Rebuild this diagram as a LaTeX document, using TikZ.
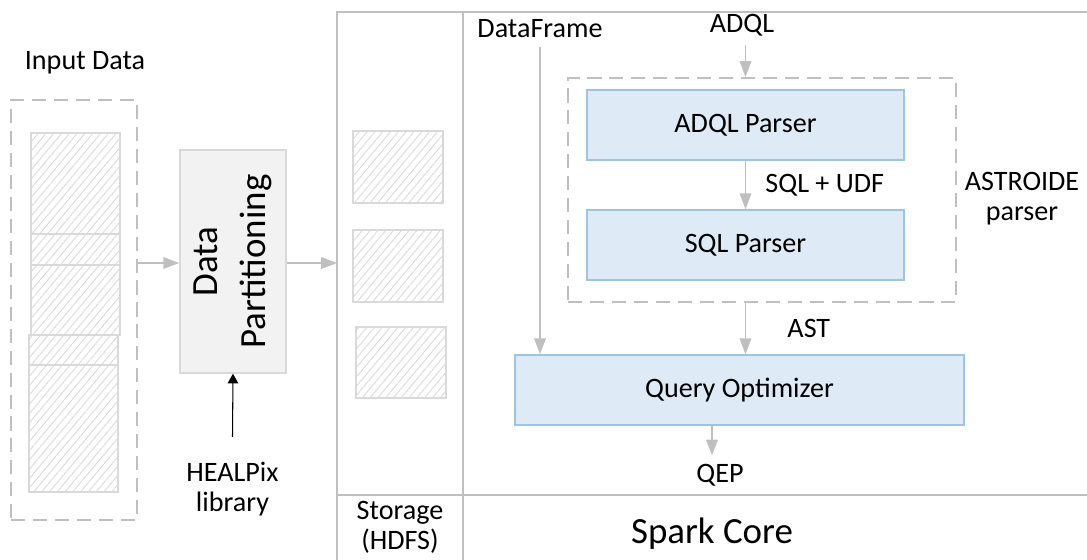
\documentclass[tikz,border=0pt]{standalone}
\usepackage{fontspec}
\setmainfont{Carlito}
\usetikzlibrary{arrows.meta, positioning, patterns.meta}
\definecolor{LineGrey}{RGB}{191, 191, 191}
\definecolor{HatchGrey}{RGB}{217, 217, 217}
\definecolor{PartGrey}{RGB}{242, 242, 242}
\definecolor{ParserBlue}{RGB}{222, 235, 247}
\definecolor{ParserEdge}{RGB}{157, 195, 230}

\begin{document}
\begin{tikzpicture}[
    % one unit = one pixel of the layout, y grows downwards
    x=0.02cm, y=-0.02cm,
    % --- STYLES ---
    % Text: plain labels
    txt/.style={
        font=\fontsize{16}{17}\selectfont,
        align=center,
        inner sep=0pt
    },
    % Text: large labels
    bigtxt/.style={
        font=\fontsize{21}{27.5}\selectfont,
        align=center,
        inner sep=0pt
    },
    % Frame of the storage / spark area
    framestyle/.style={
        draw=LineGrey,
        line width=1.1pt
    },
    % Groups: dashed lines
    group/.style={
        draw=LineGrey,
        line width=1.1pt,
        dash pattern=on 8pt off 4.5pt,
        inner sep=0pt
    },
    % Data blocks: hatched
    hatch/.style={
        draw=HatchGrey,
        line width=0.7pt,
        pattern={Lines[angle=50, distance=3.4pt, line width=0.5pt]},
        pattern color=HatchGrey,
        inner sep=0pt
    },
    % Partitioning step: light grey
    partstyle/.style={
        draw=HatchGrey,
        fill=PartGrey,
        line width=0.8pt,
        inner sep=0pt
    },
    % Parsers and optimizer: light blue
    parserstyle/.style={
        txt,
        draw=ParserEdge,
        fill=ParserBlue,
        line width=0.8pt
    },
    % Arrows: grey
    arrow/.style={
        draw=LineGrey,
        line width=1.1pt,
        -{Triangle[length=9pt, width=6.5pt]}
    },
    % Library arrow: thin black
    libarrow/.style={
        black,
        line width=0.6pt,
        -{Triangle[length=5.5pt, width=6pt]}
    }
]
\useasboundingbox (0,0) rectangle (1087,560);

% --- 1. INPUT DATA ---

\node (indata) [txt, anchor=base] at (85,70) {Input Data};
\node (ingroup) [group, minimum width=2.52cm, minimum height=8.4cm] at (74,310) {};
\foreach \blk/\cx/\cy/\h in {inA/75.5/183.5/101, inB/75.5/249.5/31, inC/75.5/300/70, inD/73.5/350/30, inE/73.5/428.5/127}
    \node (\blk) [hatch, minimum width=1.78cm, minimum height=\h*0.02cm] at (\cx,\cy) {};

% --- 2. PARTITIONING ---

\node (part) [partstyle, minimum width=2.12cm, minimum height=4.46cm] at (233,261.5) {};
\node (parttext) [bigtxt, rotate=90] at (part.center) {Data\\Partitioning};
\node (heal) [txt] at (232.5,489) {HEALPix\\library};

% --- 3. STORAGE AND SPARK FRAME ---

\draw [framestyle] (1087,12) -- (337,12) -- (337,560);
\draw [framestyle] (463,12) -- (463,560);
\draw [framestyle] (337,495) -- (1087,495);
\coordinate (frameleft) at (337,263);

\node (store1) [hatch, minimum width=1.8cm, minimum height=1.44cm] at (398,167) {};
\node (store2) [hatch, minimum width=1.8cm, minimum height=1.44cm] at (398,266) {};
\node (store3) [hatch, minimum width=1.8cm, minimum height=1.42cm] at (401,362.5) {};

\node (storage) [txt] at (400,527) {Storage\\(HDFS)};
\node (spark) [bigtxt, anchor=base] at (712,543) {Spark Core};

% --- 4. ASTROIDE PARSER AND OPTIMIZER ---

\node (dfname) [txt, anchor=base] at (540,38) {DataFrame};
\node (adqlname) [txt, anchor=base] at (742,33) {ADQL};

\node (adqlp) [parserstyle, minimum width=6.34cm, minimum height=1.4cm] at (745.5,125) {ADQL Parser};
\node (sqlp) [parserstyle, minimum width=6.34cm, minimum height=1.4cm] at (745.5,245) {SQL Parser};
\node (astro) [group, minimum width=7.76cm, minimum height=4.48cm] at (762,190) {};
\node (astrolabel) [txt] at (1022,199) {ASTROIDE\\parser};

\node (qopt) [parserstyle, minimum width=8.98cm, minimum height=1.4cm] at (739.5,390) {Query Optimizer};
\node (qep) [txt, anchor=base] at (720,482) {QEP};

% --- CONNECTIONS ---

\draw [arrow] (ingroup.east |- frameleft) -- (part.west |- frameleft);
\draw [arrow] (part.east |- frameleft) -- (frameleft);
\draw [libarrow] ([yshift=0.5cm]heal.north) -- (part.south);

\draw [arrow, shorten <=4.5pt] (adqlname.south -| adqlp.north) -- (astro.north -| adqlp.north);
\draw [arrow] (adqlp) -- node[txt, midway, right=0.38cm] {SQL + UDF} (sqlp);
\draw [arrow] (astro.south -| sqlp.south) -- node[txt, midway, right=0.82cm] {AST} (qopt.north -| sqlp.south);
\draw [arrow, shorten <=5pt] (dfname.south) -- (dfname.south |- qopt.north);
\draw [arrow, shorten >=4.5pt] ([xshift=-0.16cm]qopt.south -| qep.north) -- ([xshift=-0.16cm]qep.north);

\end{tikzpicture}
\end{document}
